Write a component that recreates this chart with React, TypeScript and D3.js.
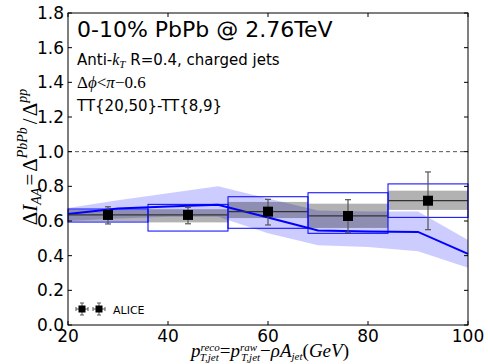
import React from "react";
import * as d3 from "d3";

const binLo = [20, 36, 52, 68, 84];
const binHi = [36, 52, 68, 84, 100];
const ptCenters = [28, 44, 60, 76, 92];
const values = [0.635, 0.635, 0.654, 0.629, 0.717];
const statLo = [0.583, 0.584, 0.577, 0.535, 0.55];
const statHi = [0.682, 0.679, 0.725, 0.723, 0.883];
const sysGrayLo = [0.598, 0.592, 0.617, 0.56, 0.664];
const sysGrayHi = [0.664, 0.668, 0.71, 0.7, 0.775];
const sysBlueLo = [0.594, 0.542, 0.558, 0.529, 0.621];
const sysBlueHi = [0.669, 0.696, 0.74, 0.763, 0.814];

const thX = [20, 30, 40, 50, 60, 70, 80, 90, 100];
const thY = [0.64, 0.672, 0.683, 0.694, 0.62, 0.545, 0.54, 0.537, 0.41];
const thUp = [0.675, 0.72, 0.76, 0.8, 0.73, 0.66, 0.655, 0.655, 0.49];
const thLo = [0.6, 0.615, 0.625, 0.625, 0.53, 0.46, 0.45, 0.425, 0.33];

const xTicks = [20, 40, 60, 80, 100];
const yTicks = [0, 0.2, 0.4, 0.6, 0.8, 1.0, 1.2, 1.4, 1.6, 1.8];

const W = 488, H = 364;
const L = 68, R = 468, T = 13, B = 325;

export default function App() {
  const x = d3.scaleLinear().domain([20, 100]).range([L, R]);
  const y = d3.scaleLinear().domain([0, 1.8]).range([B, T]);
  const idx = thX.map((_, i) => i);
  const area = d3.area<number>().x(i => x(thX[i])).y0(i => y(thLo[i])).y1(i => y(thUp[i]));
  const line = d3.line<number>().x(i => x(thX[i])).y(i => y(thY[i]));
  const sans = "DejaVu Sans";
  const serif = "Liberation Serif";
  const tick = 4;
  return (
    <svg width={W} height={H} style={{ position: "absolute", left: 0, top: 0 }}>
      <rect width={W} height={H} fill="#fff" />
      <path d={area(idx) || ""} fill="#0000ff" fillOpacity={0.2} stroke="none" />
      {values.map((_, i) => (
        <rect key={"g" + i} x={x(binLo[i])} width={x(binHi[i]) - x(binLo[i])}
          y={y(sysGrayHi[i])} height={y(sysGrayLo[i]) - y(sysGrayHi[i])}
          fill="#000" fillOpacity={0.3} />
      ))}
      {values.map((_, i) => (
        <rect key={"b" + i} x={x(binLo[i])} width={x(binHi[i]) - x(binLo[i])}
          y={y(sysBlueHi[i])} height={y(sysBlueLo[i]) - y(sysBlueHi[i])}
          fill="none" stroke="#0000ff" strokeWidth={1} />
      ))}
      <path d={line(idx) || ""} fill="none" stroke="#0000ff" strokeWidth={2} />
      <line x1={L} x2={R} y1={y(1)} y2={y(1)} stroke="#555" strokeWidth={1} strokeDasharray="4,3" />
      {values.map((v, i) => (
        <line key={"h" + i} x1={x(binLo[i])} x2={x(binHi[i])} y1={y(v)} y2={y(v)} stroke="#333" strokeWidth={1.3} />
      ))}
      {values.map((v, i) => (
        <g key={"e" + i} stroke="#555" strokeWidth={1.2}>
          <line x1={x(ptCenters[i])} x2={x(ptCenters[i])} y1={y(statHi[i])} y2={y(statLo[i])} />
          <line x1={x(ptCenters[i]) - 3} x2={x(ptCenters[i]) + 3} y1={y(statHi[i])} y2={y(statHi[i])} />
          <line x1={x(ptCenters[i]) - 3} x2={x(ptCenters[i]) + 3} y1={y(statLo[i])} y2={y(statLo[i])} />
        </g>
      ))}
      {values.map((v, i) => (
        <rect key={"m" + i} x={x(ptCenters[i]) - 5} y={y(v) - 5} width={10} height={10} fill="#000" />
      ))}
      <rect x={L} y={T} width={R - L} height={B - T} fill="none" stroke="#000" strokeWidth={1} />
      {xTicks.map(t => (
        <g key={"xt" + t} stroke="#000" strokeWidth={1}>
          <line x1={x(t)} x2={x(t)} y1={B} y2={B - tick} />
          <line x1={x(t)} x2={x(t)} y1={T} y2={T + tick} />
        </g>
      ))}
      {yTicks.map(t => (
        <g key={"yt" + t} stroke="#000" strokeWidth={1}>
          <line x1={L} x2={L + tick} y1={y(t)} y2={y(t)} />
          <line x1={R} x2={R - tick} y1={y(t)} y2={y(t)} />
        </g>
      ))}
      {xTicks.map(t => (
        <text key={"xl" + t} x={x(t)} y={342} textAnchor="middle" fontFamily={sans} fontSize={17}>{t}</text>
      ))}
      {yTicks.map(t => (
        <text key={"yl" + t} x={64} y={y(t) + 6} textAnchor="end" fontFamily={sans} fontSize={17}>{t.toFixed(1)}</text>
      ))}
      <text x={77} y={37} fontFamily={sans} fontSize={22}>0-10% PbPb @ 2.76TeV</text>
      <text x={77} y={65} fontFamily={sans} fontSize={15}>
        Anti-<tspan fontFamily={serif} fontStyle="italic" fontSize={16}>k</tspan>
        <tspan fontFamily={serif} fontStyle="italic" fontSize={11} dy={3}>T</tspan>
        <tspan dy={-3}> R=0.4, charged jets</tspan>
      </text>
      <text x={77} y={88} fontFamily={serif} fontSize={17}>
        Δ<tspan fontStyle="italic">ϕ</tspan>&lt;<tspan fontStyle="italic">π</tspan>−0.6
      </text>
      <text x={77} y={111} fontFamily={sans} fontSize={15}>TT{"{20,50}"}-TT{"{8,9}"}</text>
      {[82, 99].map(cx => (
        <g key={"lg" + cx}>
          <g stroke="#555" strokeWidth={1}>
            <line x1={cx - 6} x2={cx + 6} y1={309} y2={309} />
            <line x1={cx} x2={cx} y1={303} y2={315} />
            <line x1={cx - 2} x2={cx + 2} y1={303} y2={303} />
            <line x1={cx - 2} x2={cx + 2} y1={315} y2={315} />
            <line x1={cx - 6} x2={cx - 6} y1={307} y2={311} />
            <line x1={cx + 6} x2={cx + 6} y1={307} y2={311} />
          </g>
          <rect x={cx - 3.5} y={305.5} width={7} height={7} fill="#000" />
        </g>
      ))}
      <text x={113} y={313.5} fontFamily={sans} fontSize={11}>ALICE</text>
      <text transform="translate(37,157) rotate(-90)" textAnchor="middle" fontFamily={serif} fontSize={21}>
        Δ<tspan fontStyle="italic">I</tspan>
        <tspan fontStyle="italic" fontSize={14} dy={4}>AA</tspan>
        <tspan dy={-4} dx={2}>=</tspan>
        <tspan dx={2}>Δ</tspan>
        <tspan fontStyle="italic" fontSize={14} dy={-10}>PbPb</tspan>
        <tspan dy={10} dx={3}>/</tspan>
        <tspan dx={2}>Δ</tspan>
        <tspan fontStyle="italic" fontSize={14} dy={-10}>pp</tspan>
      </text>
      <text x={270} y={357} textAnchor="middle" fontFamily={serif} fontSize={19}>
        <tspan fontStyle="italic">p</tspan>
        <tspan fontStyle="italic" fontSize={11} dy={-6}>reco</tspan>
        <tspan fontStyle="italic" fontSize={11} dx={-20} dy={10}>T,jet</tspan>
        <tspan dy={-4} dx={1}>=</tspan>
        <tspan fontStyle="italic">p</tspan>
        <tspan fontStyle="italic" fontSize={11} dy={-6}>raw</tspan>
        <tspan fontStyle="italic" fontSize={11} dx={-16} dy={10}>T,jet</tspan>
        <tspan dy={-4}>−</tspan>
        <tspan fontStyle="italic">ρA</tspan>
        <tspan fontStyle="italic" fontSize={11} dy={3}>jet</tspan>
        <tspan dy={-3}>(</tspan>
        <tspan fontStyle="italic">GeV</tspan>
        <tspan>)</tspan>
      </text>
    </svg>
  );
}
